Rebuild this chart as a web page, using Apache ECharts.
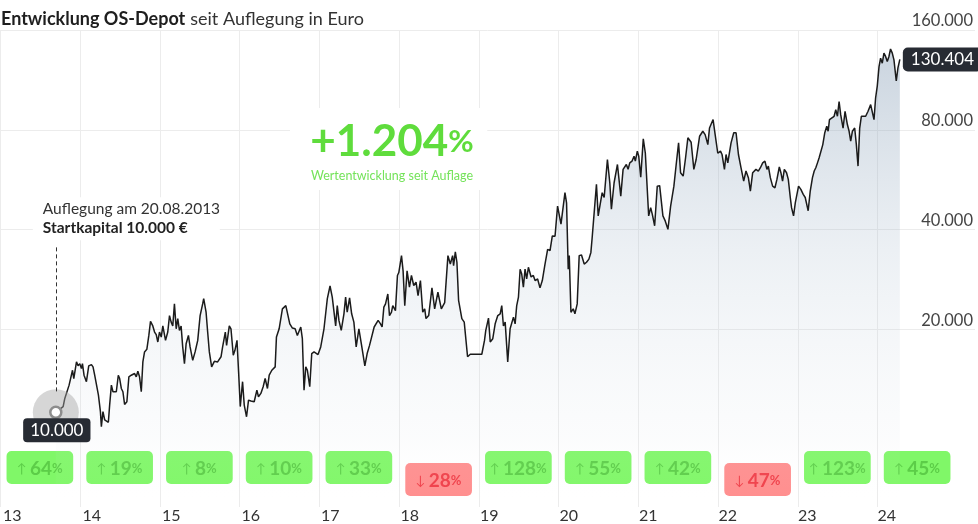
<!DOCTYPE html>
<html><head><meta charset="utf-8">
<script src="https://cdn.jsdelivr.net/npm/echarts@6/dist/echarts.min.js"></script>
<style>html,body{margin:0;padding:0;background:#fff}#c{width:978px;height:524px}</style>
</head><body><div id="c"></div>
<script>
// ---- data ----
const dates = [
2013.702,2013.794,2013.815,2013.836,2013.869,2013.886,2013.912,2013.928,2013.962,2013.982,
2014.003,2014.024,2014.037,2014.057,2014.087,2014.116,2014.150,2014.170,2014.191,2014.213,
2014.238,2014.263,2014.275,2014.295,2014.317,2014.338,2014.363,2014.379,2014.401,2014.421,
2014.442,2014.463,2014.488,2014.505,2014.526,2014.546,2014.567,2014.596,2014.621,2014.651,
2014.671,2014.693,2014.714,2014.734,2014.755,2014.777,2014.797,2014.818,2014.847,2014.872,
2014.893,2014.922,2014.944,2014.965,2014.985,2015.006,2015.028,2015.048,2015.082,2015.110,
2015.132,2015.153,2015.173,2015.194,2015.216,2015.236,2015.257,2015.278,2015.298,2015.320,
2015.341,2015.370,2015.391,2015.424,2015.454,2015.487,2015.517,2015.549,2015.562,2015.592,
2015.612,2015.633,2015.662,2015.696,2015.737,2015.780,2015.800,2015.834,2015.850,2015.884,
2015.905,2015.934,2015.955,2015.981,2016.001,2016.022,2016.051,2016.072,2016.101,2016.126,
2016.156,2016.176,2016.197,2016.231,2016.251,2016.281,2016.310,2016.335,2016.364,2016.386,
2016.419,2016.439,2016.461,2016.477,2016.511,2016.552,2016.574,2016.595,2016.615,2016.645,
2016.678,2016.712,2016.740,2016.783,2016.803,2016.824,2016.846,2016.866,2016.896,2016.921,
2016.950,2016.971,2017.000,2017.034,2017.075,2017.117,2017.151,2017.179,2017.201,2017.222,
2017.242,2017.263,2017.292,2017.326,2017.347,2017.367,2017.397,2017.423,2017.451,2017.480,
2017.514,2017.548,2017.589,2017.618,2017.648,2017.673,2017.706,2017.731,2017.756,2017.786,
2017.806,2017.828,2017.849,2017.878,2017.899,2017.924,2017.940,2017.974,2017.999,2018.016,
2018.050,2018.070,2018.091,2018.120,2018.141,2018.150,2018.175,2018.204,2018.233,2018.258,
2018.288,2018.317,2018.342,2018.358,2018.392,2018.433,2018.467,2018.508,2018.551,2018.593,
2018.634,2018.664,2018.693,2018.705,2018.727,2018.747,2018.768,2018.809,2018.839,2018.881,
2018.915,2019.060,2019.094,2019.110,2019.144,2019.166,2019.198,2019.228,2019.261,2019.291,
2019.311,2019.332,2019.354,2019.386,2019.416,2019.436,2019.458,2019.479,2019.499,2019.521,
2019.542,2019.562,2019.583,2019.604,2019.624,2019.646,2019.680,2019.708,2019.730,2019.762,
2019.792,2019.821,2019.855,2019.888,2019.918,2019.947,2019.981,2020.013,2020.056,2020.106,
2020.126,2020.147,2020.160,2020.181,2020.210,2020.231,2020.260,2020.285,2020.314,2020.348,
2020.377,2020.407,2020.432,2020.448,2020.473,2020.502,2020.524,2020.545,2020.574,2020.599,
2020.640,2020.670,2020.690,2020.724,2020.766,2020.808,2020.837,2020.878,2020.900,2020.921,
2020.950,2020.975,2020.991,2021.016,2021.034,2021.059,2021.091,2021.117,2021.159,2021.184,
2021.204,2021.234,2021.267,2021.297,2021.310,2021.338,2021.367,2021.401,2021.435,2021.476,
2021.505,2021.535,2021.560,2021.593,2021.623,2021.652,2021.693,2021.727,2021.756,2021.799,
2021.840,2021.869,2021.903,2021.924,2021.944,2021.969,2021.995,2022.028,2022.062,2022.082,
2022.112,2022.132,2022.154,2022.195,2022.229,2022.258,2022.288,2022.320,2022.354,2022.383,
2022.413,2022.438,2022.467,2022.508,2022.538,2022.564,2022.593,2022.621,2022.646,2022.664,
2022.689,2022.718,2022.747,2022.772,2022.802,2022.822,2022.843,2022.865,2022.893,2022.915,
2022.940,2022.956,2022.981,2023.003,2023.022,2023.044,2023.073,2023.103,2023.128,2023.148,
2023.165,2023.191,2023.219,2023.241,2023.261,2023.282,2023.303,2023.324,2023.349,2023.374,
2023.399,2023.416,2023.433,2023.458,2023.491,2023.512,2023.533,2023.554,2023.574,2023.604,
2023.629,2023.658,2023.680,2023.700,2023.721,2023.750,2023.771,2023.792,2023.813,2023.834,
2023.859,2023.888,2023.918,2023.951,2023.972,2023.993,2024.013,2024.034,2024.056,2024.076,
2024.097,2024.118,2024.139,2024.160,2024.181,2024.201,2024.223,2024.244,2024.273,2024.294,
2024.318
];
const values = [
11250,11710,12390,12250,13590,13750,15070,14230,15970,15540,
15780,15250,15780,14560,13920,15540,15670,15430,14560,14730,
12680,11310,10190,11310,10670,10770,10500,11830,13590,12980,
13120,12980,14560,14230,13280,12980,11890,12110,14400,14560,
14400,14730,14400,14960,14400,12980,15970,17120,17430,19190,
21150,20500,19650,19290,18340,19650,18980,20500,18540,19650,
22030,21050,20500,23890,20100,21570,19870,20500,17720,15780,
18120,19190,17720,16150,17120,18540,22030,23890,24780,22550,
19650,17120,15430,16030,15970,16550,17720,19650,17910,20500,
20100,16720,17310,18540,14900,11710,13920,11830,10910,12250,
12170,12250,12110,13120,12540,12830,13440,14230,13280,14560,
15070,15070,15430,18980,20100,23080,22800,23600,23350,20800,
20200,20100,19190,20350,18760,13120,15430,15070,13440,16920,
17120,17310,16800,17720,20100,24780,27050,25050,25050,20500,
23600,21300,19870,22300,25050,22550,24900,22300,21050,17720,
20100,17910,15540,16920,17910,17720,20350,20500,21300,20800,
20350,23350,23890,25600,22030,22550,23600,22800,29100,29700,
33400,30050,23600,30050,30250,26850,29100,27150,27800,25300,
28100,22550,23080,21570,22030,26700,23080,25900,23080,24100,
33400,31500,33400,31150,34300,31900,24500,21570,21050,16550,
16840,16840,18540,19870,21650,18340,18760,20800,22030,22300,
23600,20500,21050,15970,20100,20350,21800,20800,23600,25050,
30400,29400,26850,30400,28400,30800,28800,29100,28100,28400,
26700,28100,31500,34900,34600,38300,38200,47100,41550,51700,
48200,30400,33400,22550,23080,22300,23890,33400,33550,31500,
31900,32600,34150,37800,37800,54800,44000,43500,51700,50000,
65100,55400,46100,55400,62900,50500,60800,62900,60800,63600,
64400,66600,64400,69000,66600,57600,75200,68000,44000,46600,
44550,41100,54100,54300,54800,44000,42500,40100,47100,54100,
62900,73100,59400,58000,65900,75700,73400,60800,65100,76500,
79200,77400,72200,81000,82000,85900,77400,68000,69000,67400,
60800,67400,63600,73100,78400,78400,67400,61500,56000,60100,
57400,52300,59400,60800,60100,61500,63600,64400,60800,62200,
57400,54100,53500,56700,61800,59400,56000,60800,59400,56700,
50000,46600,44000,48200,48700,54100,52900,51100,50000,49800,
45600,52300,57400,60100,61500,63600,65900,65100,72200,78400,
82000,79200,85900,85300,87900,92000,87900,97400,88900,81000,
91000,83000,79200,74000,79200,81000,72200,62200,81000,87900,
88900,87900,91000,95300,96400,85900,99800,108400,124100,131500,
127100,136300,133200,128500,133200,140200,136300,130000,112300,123000,
130404
];
const years = [2013,2014,2015,2016,2017,2018,2019,2020,2021,2022,2023,2024];
const yearLabels = ['13','14','15','16','17','18','19','20','21','22','23','24'];
const yearReturns = [64,19,8,10,33,-28,128,55,42,-47,123,45];
const yTickValues = [20000,40000,80000,160000];
const startText = '10.000';
const endText = '130.404';
const totalReturnText = '+1.204';
const titleBold = 'Entwicklung OS-Depot';
const titleRest = 'seit Auflegung in Euro';
const noteLine1 = 'Auflegung am 20.08.2013';
const noteLine2 = 'Startkapital 10.000 €';
const bigSub = 'Wertentwicklung seit Auflage';

// ---- chart ----
const FF = "Lato, 'Noto Sans', sans-serif";
const fmtDE = v => String(Math.round(v)).replace(/\B(?=(\d{3})+(?!\d))/g, '.');
const chart = echarts.init(document.getElementById('c'), null, {renderer: 'canvas'});
const gridRect = {left: 0, right: 0, top: 30, bottom: 17};
const xMin = 2013, xMax = 2013 + 978 / 79.75;
const yMax = 160000, yMin = 5913;

const option = {
  animation: false,
  backgroundColor: '#fff',
  title: {
    text: '{b|' + titleBold + '} {r|' + titleRest + '}',
    left: 1, top: 10, padding: 0,
    textStyle: {fontWeight: 'normal', rich: {
      b: {fontFamily: FF, fontSize: 18, fontWeight: 'bold', color: '#1e1e1e'},
      r: {fontFamily: FF, fontSize: 18, fontWeight: 'normal', color: '#333'}
    }}
  },
  grid: [Object.assign({}, gridRect), Object.assign({}, gridRect)],
  xAxis: [
    {type: 'value', gridIndex: 0, min: xMin, max: xMax, interval: 1,
     axisLine: {show: false}, axisTick: {show: false}, splitLine: {show: false},
     axisLabel: {show: true, margin: 3, align: 'left', padding: [0, 0, 0, 3],
       fontFamily: FF, fontSize: 16, color: '#333',
       formatter: v => { const i = years.indexOf(Math.round(v)); return i >= 0 ? yearLabels[i] : ''; }}},
    {type: 'value', gridIndex: 1, min: xMin, max: xMax, show: false}
  ],
  yAxis: [
    {type: 'log', logBase: 2, gridIndex: 0, min: yMin, max: yMax, position: 'right',
     axisLine: {show: false},
     axisTick: {show: false, customValues: yTickValues},
     axisLabel: {inside: true, customValues: yTickValues, margin: 2, verticalAlign: 'bottom',
       fontFamily: FF, fontSize: 16.5, color: '#444', lineHeight: 18, formatter: v => fmtDE(v)},
     splitLine: {show: true, lineStyle: {color: '#ececec', width: 1}}},
    {type: 'value', gridIndex: 1, min: -100, max: 200, show: false}
  ],
  series: [
    {
      type: 'custom', xAxisIndex: 1, yAxisIndex: 1, silent: true, z: 1,
      data: years.map((y, i) => [y, yearReturns[i]]),
      encode: {x: 0, y: 1},
      renderItem: function (params, api) {
        const yr = api.value(0), r = api.value(1);
        const cs = params.coordSys;
        const x0 = api.coord([yr, 0])[0];
        const x1 = api.coord([yr + 1, 0])[0];
        const bottom = cs.y + cs.height;
        const up = r >= 0;
        const bw = (x1 - x0) * 0.836, bh = 33;
        const cx = (x0 + x1) / 2;
        const by = up ? bottom - 56 : bottom - 44;
        const tc = up ? '#5ccd48' : '#f0404a';
        return {type: 'group', children: [
          {type: 'line', shape: {x1: Math.round(x0) + 0.5, y1: cs.y, x2: Math.round(x0) + 0.5, y2: bottom},
           style: {stroke: '#ececec', lineWidth: 1}},
          {type: 'rect', shape: {x: cx - bw / 2, y: by, width: bw, height: bh, r: 5},
           style: {fill: up ? '#80f768' : '#ff8e8e'}},
          {type: 'text', style: {
            x: cx, y: by + bh / 2 + 1, align: 'center', verticalAlign: 'middle',
            text: (up ? '{a|↑}' : '{a|↓}') + ' {b|' + Math.abs(r) + '}{c|%}',
            rich: {
              a: {fontFamily: FF, fontSize: 13, fill: tc, color: tc},
              b: {fontFamily: FF, fontSize: 19, fontWeight: 'bold', fill: tc, color: tc},
              c: {fontFamily: FF, fontSize: 13, fontWeight: 'bold', fill: tc, color: tc}
            }}}
        ]};
      }
    },
    {
      type: 'line', xAxisIndex: 0, yAxisIndex: 0, z: 3,
      data: dates.map((d, i) => [d, values[i]]),
      showSymbol: false, symbol: 'none',
      lineStyle: {color: '#1b1b1b', width: 1.5},
      areaStyle: {origin: 'start', color: new echarts.graphic.LinearGradient(0, 0, 0, 1, [
        {offset: 0, color: 'rgba(125,150,176,0.58)'},
        {offset: 0.45, color: 'rgba(160,180,200,0.28)'},
        {offset: 0.85, color: 'rgba(210,218,228,0.12)'},
        {offset: 1, color: 'rgba(255,255,255,0)'}
      ])},
      endLabel: {show: true, formatter: endText, color: '#fff', backgroundColor: '#272b33',
        borderRadius: 5, padding: [4, 8, 3, 8], fontSize: 17, fontFamily: FF, distance: 3},
      markPoint: {
        symbol: 'circle', silent: true,
        data: [
          {coord: [dates[0], values[0]], symbolSize: 46, itemStyle: {color: 'rgba(165,165,165,0.45)'},
           label: {show: true, formatter: startText, position: 'inside', offset: [1, 18], color: '#fff',
             backgroundColor: '#272b33', padding: [4, 7, 3, 7], borderRadius: 4, fontSize: 17, fontFamily: FF}},
          {coord: [dates[0], values[0]], symbolSize: 11, itemStyle: {color: '#fff', borderColor: '#8d8d8d', borderWidth: 2.5},
           label: {show: false}}
        ]
      }
    }
  ]
};
chart.setOption(option);

const p = chart.convertToPixel({xAxisIndex: 0, yAxisIndex: 0}, [dates[0], values[0]]);
chart.setOption({graphic: [
  {type: 'rect', z: 100, shape: {x: 290, y: 108, width: 197, height: 82}, style: {fill: '#fff'}},
  {type: 'text', z: 101, style: {x: 392, y: 142, align: 'center', verticalAlign: 'middle',
    text: '{n|' + totalReturnText + '}{p|%}',
    rich: {n: {fontFamily: FF, fontSize: 44, fontWeight: 'bold', fill: '#5fdc3c', color: '#5fdc3c'},
           p: {fontFamily: FF, fontSize: 31, fontWeight: 'bold', fill: '#5fdc3c', color: '#5fdc3c'}}}},
  {type: 'text', z: 101, style: {x: 392, y: 175.5, align: 'center', verticalAlign: 'middle',
    text: bigSub, font: '12.5px ' + FF, fill: '#74e35a'}},
  {type: 'rect', z: 100, shape: {x: p[0] - 23, y: p[1] - 215, width: 187, height: 43}, style: {fill: '#fff'}},
  {type: 'text', z: 101, style: {x: p[0] - 13, y: p[1] - 203.5, verticalAlign: 'middle',
    text: noteLine1, font: '15.5px ' + FF, fill: '#333'}},
  {type: 'text', z: 101, style: {x: p[0] - 13, y: p[1] - 184, verticalAlign: 'middle',
    text: noteLine2, font: 'bold 15.5px ' + FF, fill: '#222'}},
  {type: 'line', z: 101, shape: {x1: Math.round(p[0]) + 0.5, y1: p[1] - 21, x2: Math.round(p[0]) + 0.5, y2: p[1] - 168},
   style: {stroke: '#333', lineWidth: 1, lineDash: [4, 3]}}
]});
</script>
</body></html>
